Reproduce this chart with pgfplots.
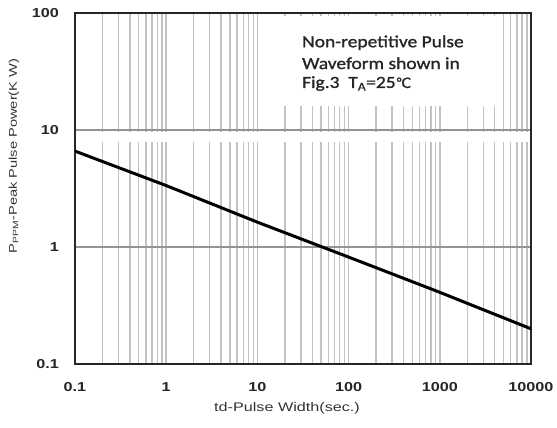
\documentclass[border=0pt]{standalone}
\usepackage{pgfplots}
\pgfplotsset{compat=1.18}
\usepackage{fontspec}
\setmainfont{Liberation Sans}
\newfontfamily\tickfont[FakeStretch=1.25]{Liberation Sans}
\newfontfamily\labfont[FakeStretch=1.3]{Liberation Sans}
\newfontfamily\boxfont[FakeStretch=1.15,FakeBold=1.2]{Carlito}
\newfontfamily\symfont[FakeBold=1.2]{DejaVu Sans}

\begin{document}
\begin{tikzpicture}
\path[use as bounding box] (-75bp,-64bp) rectangle (482bp,364bp);
\begin{axis}[
  scale only axis,
  width=456bp, height=351bp,
  xmode=log, ymode=log,
  xmin=0.1, xmax=10000, ymin=0.1, ymax=100,
  xtick={0.1,1,10,100,1000,10000},
  xticklabels={0.1,1,10,100,1000,10000},
  ytick={0.1,1,10,100},
  yticklabels={0.1,1,10,100},
  major tick length=0pt, minor tick length=0pt,
  xmajorgrids, xminorgrids, ymajorgrids,
  x grid style={black!24, line width=1.4bp},
  y grid style={black!42, line width=1.3bp},
  axis line style={black!85, line width=1.6bp},
  tick label style={font=\tickfont\bfseries\fontsize{13}{15}\selectfont, text=black!85},
  xticklabel style={anchor=center, inner sep=0pt, yshift=-23bp},
  yticklabel style={anchor=east, inner sep=0pt, xshift=-16bp},
  label style={text=black!80},
  xlabel={td-Pulse Width(sec.)},
  xlabel style={font=\labfont\fontsize{12.5}{14}\selectfont, at={(rel axis cs:0.465,-0.125)}, anchor=center},
  ylabel={P\textsubscript{PPM}-Peak Pulse Power(K W)},
  ylabel style={font=\labfont\fontsize{11.3}{14}\selectfont, at={(rel axis cs:-0.134,0.593)}, anchor=center},
]
% gap in the vertical grid just below the 10 line
\fill[white] (axis cs:0.1026,7.9) rectangle (axis cs:9750,9.55);
% curve
\addplot[black, line width=3bp] coordinates {
  (0.1,6.6) (1,3.35) (10,1.63) (100,0.82) (1000,0.41) (10000,0.2)
};
% annotation box
\fill[white] (axis cs:15.6,16) rectangle (axis cs:4900,95);
\node[anchor=base west, inner sep=0pt, font=\boxfont\fontsize{17}{20}\selectfont, text=black!85]
  at (axis cs:30.8,51) {Non-repetitive Pulse};
\node[anchor=base west, inner sep=0pt, font=\boxfont\fontsize{17}{20}\selectfont, text=black!85]
  at (axis cs:30.8,33.2) {Waveform shown in};
\node[anchor=base west, inner sep=0pt, font=\boxfont\fontsize{17}{20}\selectfont, text=black!85]
  at (axis cs:30.8,22.9) {Fig.3\ \ T\textsubscript{A}=25{\symfont\fontsize{14}{16}\selectfont ℃}};
\end{axis}
\end{tikzpicture}
\end{document}
